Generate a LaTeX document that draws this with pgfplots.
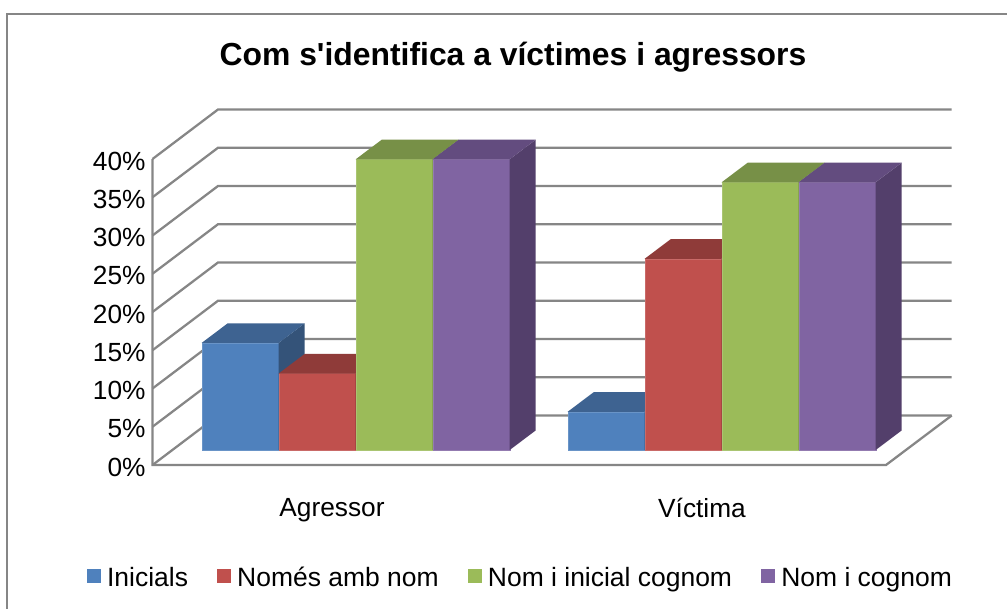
\documentclass[border=0pt]{standalone}
\usepackage{pgfplots}
\pgfplotsset{compat=1.18}
\usepackage{fontspec}
\setmainfont{Liberation Sans}
\newfontfamily\titlefont{Liberation Sans}
\definecolor{grid}{HTML}{868686}
\definecolor{bluef}{HTML}{4F81BD}\definecolor{bluet}{HTML}{3E6391}\definecolor{blues}{HTML}{345379}
\definecolor{redf}{HTML}{C0504D}\definecolor{redt}{HTML}{8F3B39}\definecolor{reds}{HTML}{7A3230}
\definecolor{greenf}{HTML}{9BBB59}\definecolor{greent}{HTML}{779047}\definecolor{greens}{HTML}{657A3C}
\definecolor{purplef}{HTML}{8064A2}\definecolor{purplet}{HTML}{634C7F}\definecolor{purples}{HTML}{533F6B}
\pgfplotsset{
  front/.style={fill=#1,draw=#1!85!white,line width=0.2pt,yshift=11.25pt},
  face/.style={fill=#1,draw=none,forget plot},
  wall/.style={draw=grid,line width=1.7pt,forget plot},
}
\begin{document}
\begin{tikzpicture}[x=1pt,y=1pt]
\useasboundingbox (0,0) rectangle (755.25pt,456pt);
\fill[white] (0,0) rectangle (755.25pt,456pt);
\draw[grid,line width=2pt] (5.25pt,-2pt) -- (5.25pt,445.5pt) -- (757pt,445.5pt);
\begin{axis}[
  at={(114.375pt,107.25pt)},anchor=south west,
  scale only axis,width=550.125pt,height=229.5pt,
  xmin=152.5,xmax=886,ymin=0,ymax=40,
  clip=false,no markers,
  axis line style={draw=none},
  major tick length=0pt,
  ytick={0,5,...,40},
  yticklabel={\pgfmathprintnumber[assume math mode=true]{\tick}\%},
  xtick={332,702},
  xticklabels={Agressor,Víctima},
  tick label style={font=\fontsize{19.7pt}{22pt}\selectfont},
  yticklabel style={xshift=-1.7pt,yshift=-1.5pt},
  xticklabel style={yshift=-21.5pt},
  title={\titlefont\bfseries Com s'identifica a víctimes i agressors},
  title style={at={(axis cs:513,52.2)},anchor=center,font=\fontsize{23.9pt}{26pt}\selectfont},
  legend columns=4,
  legend style={at={(axis cs:87,-14.8)},anchor=west,draw=none,fill=none,
    font=\fontsize{19.85pt}{22pt}\selectfont,inner sep=0pt,
    /tikz/every even column/.append style={column sep=20pt}},
  legend cell align=left,
  legend image code/.code={\fill[#1,draw=none] (0pt,-14.85pt) rectangle (10.5pt,-4.35pt);\path (12.8pt,-5pt);},
]
% walls and floor
\addplot[wall] coordinates {(152.5,40)(152.5,0)(886,0)(951.7,6.47)};
\addplot[wall] coordinates {(152.5,0)(218,6.47)(951.7,6.47)};
\addplot[wall] coordinates {(152.5,5)(218,11.47)(951.7,11.47)};
\addplot[wall] coordinates {(152.5,10)(218,16.47)(951.7,16.47)};
\addplot[wall] coordinates {(152.5,15)(218,21.47)(951.7,21.47)};
\addplot[wall] coordinates {(152.5,20)(218,26.47)(951.7,26.47)};
\addplot[wall] coordinates {(152.5,25)(218,31.47)(951.7,31.47)};
\addplot[wall] coordinates {(152.5,30)(218,36.47)(951.7,36.47)};
\addplot[wall] coordinates {(152.5,35)(218,41.47)(951.7,41.47)};
\addplot[wall] coordinates {(152.5,40)(218,46.47)(951.7,46.47)};
% Agressor: Inicials 14, Nomes amb nom 10, Nom i inicial 38, Nom i cognom 38
\addplot[front=bluef] coordinates {(201.7,0)(278.7,0)(278.7,14)(201.7,14)} -- cycle;
\addlegendentry{Inicials}
\addplot[face=blues] coordinates {(278.7,1.96)(304.7,4.52)(304.7,18.52)(278.7,15.96)} -- cycle;
\addplot[face=bluet] coordinates {(201.7,15.96)(278.7,15.96)(304.7,18.52)(227.7,18.52)} -- cycle;
\addplot[front=redf] coordinates {(278.7,0)(355.7,0)(355.7,10)(278.7,10)} -- cycle;
\addlegendentry{Només amb nom}
\addplot[face=reds] coordinates {(355.7,1.96)(381.7,4.52)(381.7,14.52)(355.7,11.96)} -- cycle;
\addplot[face=redt] coordinates {(278.7,11.96)(355.7,11.96)(381.7,14.52)(304.7,14.52)} -- cycle;
\addplot[front=greenf] coordinates {(355.7,0)(432.7,0)(432.7,38)(355.7,38)} -- cycle;
\addlegendentry{Nom i inicial cognom}
\addplot[face=greens] coordinates {(432.7,1.96)(458.7,4.52)(458.7,42.52)(432.7,39.96)} -- cycle;
\addplot[face=greent] coordinates {(355.7,39.96)(432.7,39.96)(458.7,42.52)(381.7,42.52)} -- cycle;
\addplot[front=purplef] coordinates {(432.7,0)(509.7,0)(509.7,38)(432.7,38)} -- cycle;
\addlegendentry{Nom i cognom}
\addplot[face=purples] coordinates {(509.7,1.96)(535.7,4.52)(535.7,42.52)(509.7,39.96)} -- cycle;
\addplot[face=purplet] coordinates {(432.7,39.96)(509.7,39.96)(535.7,42.52)(458.7,42.52)} -- cycle;
% Victima: 5, 25, 35, 35
\addplot[front=bluef,forget plot] coordinates {(567.7,0)(644.7,0)(644.7,5)(567.7,5)} -- cycle;
\addplot[face=blues] coordinates {(644.7,1.96)(670.7,4.52)(670.7,9.52)(644.7,6.96)} -- cycle;
\addplot[face=bluet] coordinates {(567.7,6.96)(644.7,6.96)(670.7,9.52)(593.7,9.52)} -- cycle;
\addplot[front=redf,forget plot] coordinates {(644.7,0)(721.7,0)(721.7,25)(644.7,25)} -- cycle;
\addplot[face=reds] coordinates {(721.7,1.96)(747.7,4.52)(747.7,29.52)(721.7,26.96)} -- cycle;
\addplot[face=redt] coordinates {(644.7,26.96)(721.7,26.96)(747.7,29.52)(670.7,29.52)} -- cycle;
\addplot[front=greenf,forget plot] coordinates {(721.7,0)(798.7,0)(798.7,35)(721.7,35)} -- cycle;
\addplot[face=greens] coordinates {(798.7,1.96)(824.7,4.52)(824.7,39.52)(798.7,36.96)} -- cycle;
\addplot[face=greent] coordinates {(721.7,36.96)(798.7,36.96)(824.7,39.52)(747.7,39.52)} -- cycle;
\addplot[front=purplef,forget plot] coordinates {(798.7,0)(875.7,0)(875.7,35)(798.7,35)} -- cycle;
\addplot[face=purples] coordinates {(875.7,1.96)(901.7,4.52)(901.7,39.52)(875.7,36.96)} -- cycle;
\addplot[face=purplet] coordinates {(798.7,36.96)(875.7,36.96)(901.7,39.52)(824.7,39.52)} -- cycle;
\end{axis}
\end{tikzpicture}
\end{document}
